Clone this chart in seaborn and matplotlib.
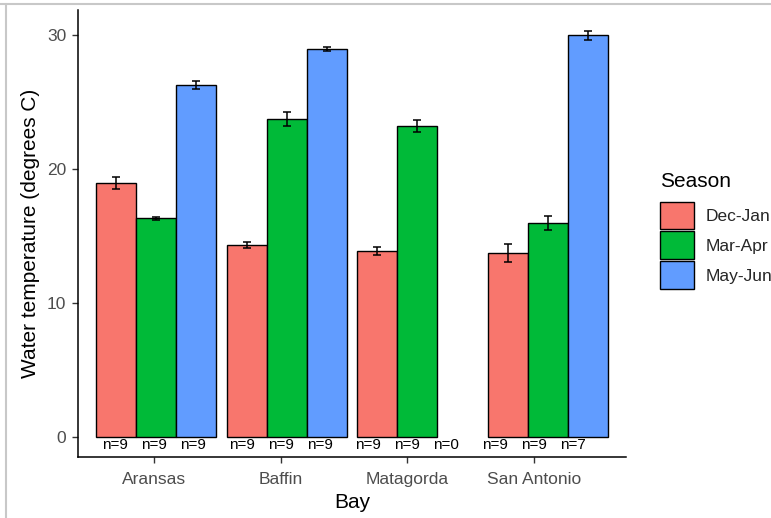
import numpy as np
import pandas as pd
import matplotlib
matplotlib.use("Agg")
import matplotlib.pyplot as plt
from matplotlib.lines import Line2D
from matplotlib.patches import Patch
import seaborn as sns

# Mean water temperature per bay and season, with error half-widths and sample sizes
bays = ["Aransas", "Baffin", "Matagorda", "San Antonio"]
seasons = ["Dec-Jan", "Mar-Apr", "May-Jun"]
season_colors = ["#F8766D", "#00BA38", "#619CFF"]

temp_dec_jan = [18.93, 14.30, 13.85, 13.75]
temp_mar_apr = [16.32, 23.73, 23.23, 16.00]
temp_may_jun = [26.29, 28.96, np.nan, 29.97]

err_dec_jan = [0.45, 0.22, 0.30, 0.68]
err_mar_apr = [0.12, 0.50, 0.45, 0.52]
err_may_jun = [0.28, 0.18, np.nan, 0.37]

n_dec_jan = [9, 9, 9, 9]
n_mar_apr = [9, 9, 9, 9]
n_may_jun = [9, 9, 0, 7]

means = [temp_dec_jan, temp_mar_apr, temp_may_jun]
errs = [err_dec_jan, err_mar_apr, err_may_jun]
counts = [n_dec_jan, n_mar_apr, n_may_jun]

df = pd.DataFrame({
    "Bay": [b for s in seasons for b in bays],
    "Season": [s for s in seasons for _ in bays],
    "temp": [v for series in means for v in series],
})

sns.set_theme(style="ticks")
plt.rcParams["font.family"] = ["Liberation Sans", "DejaVu Sans"]

fig = plt.figure(figsize=(7.71, 5.18), dpi=100)
ax = fig.add_axes([78 / 771, 1 - 457 / 518, (626 - 78) / 771, (457 - 10) / 518])

group_width = 0.92
sns.barplot(
    data=df, x="Bay", y="temp", hue="Season",
    order=bays, hue_order=seasons, palette=season_colors,
    width=group_width, errorbar=None, saturation=1,
    edgecolor="black", linewidth=1.0, legend=False, ax=ax,
)

# error bars at the dodged bar centres
step = group_width / len(seasons)
for j, s in enumerate(seasons):
    xs = np.arange(len(bays)) + (j - 1) * step
    ax.errorbar(xs, means[j], yerr=errs[j], fmt="none", ecolor="black",
                elinewidth=1.1, capsize=3, capthick=1.1, zorder=5)

# annotation layer (tick marks and sample sizes) on a slightly narrower category spacing
label_scale, label_shift = 0.9695, -0.016
for j, s in enumerate(seasons):
    for i, b in enumerate(bays):
        x = label_scale * (i + (j - 1) * step) + label_shift
        ax.text(x, -0.92, f"n={counts[j][i]}", ha="center", va="baseline",
                fontsize=11, color="black")

ax.set_xticks(label_scale * np.arange(len(bays)) + label_shift, labels=bays)
ax.set_yticks([0, 10, 20, 30])
ax.set_xlim(-0.6, 3.6)
ax.set_ylim(-1.49, 31.87)

ax.set_xlabel("Bay", fontsize=15, color="black", labelpad=4.5)
ax.set_ylabel("Water temperature (degrees C)", fontsize=15, color="black", labelpad=5)
ax.tick_params(axis="both", labelsize=12.5, labelcolor="#4D4D4D", color="#333333",
               length=4.5, width=1.0, pad=4)
ax.tick_params(axis="x", pad=6)
for side in ["left", "bottom"]:
    ax.spines[side].set_linewidth(1.1)
    ax.spines[side].set_color("black")
sns.despine(ax=ax)

# legend: title as its own text, keys anchored just below it
fig.text(660 / 771, 1 - 187 / 518, "Season", fontsize=15, color="black",
         ha="left", va="baseline")
handles = [Patch(facecolor=c, edgecolor="black", linewidth=1.0, label=s)
           for s, c in zip(seasons, season_colors)]
leg = ax.legend(handles=handles, loc="upper left",
                bbox_to_anchor=(660 / 771, 1 - 201.5 / 518), bbox_transform=fig.transFigure,
                frameon=False, fontsize=12.5,
                handlelength=1.95, handleheight=2.06, handletextpad=0.7,
                labelspacing=0.14, borderpad=0, borderaxespad=0)

# light frame around the figure
fig.add_artist(Line2D([0, 1], [1 - 4 / 518] * 2, transform=fig.transFigure,
                      color="#C8C8C8", lw=1.5))
fig.add_artist(Line2D([6 / 771] * 2, [0, 1 - 4 / 518], transform=fig.transFigure,
                      color="#C8C8C8", lw=1.5))

fig.savefig("out.png", dpi=100)
